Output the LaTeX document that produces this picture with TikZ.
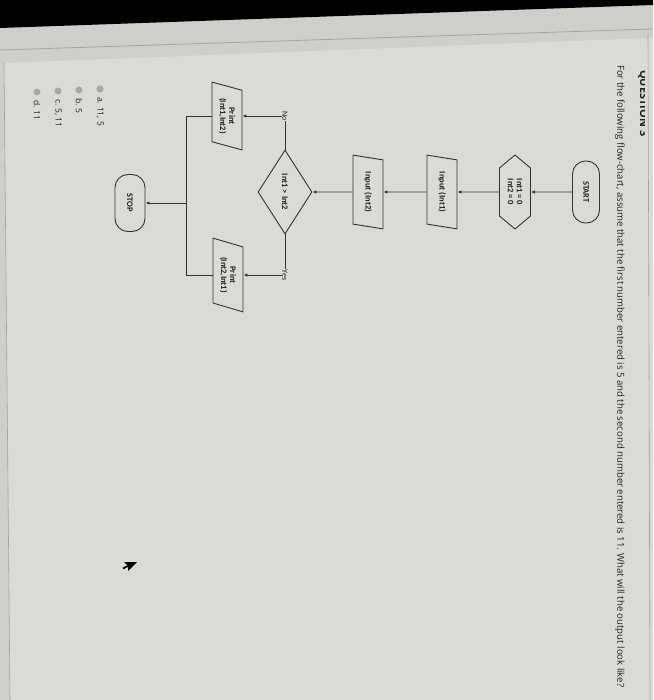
\documentclass[tikz,border=0pt]{standalone}
\usepackage{fontspec}
\usetikzlibrary{shapes.geometric,shapes.symbols,arrows.meta}
\newfontfamily\fcfont{Carlito}
\newfontfamily\qfont{Open Sans}
\definecolor{bgcard}{HTML}{DADAD6}
\definecolor{bgtop}{HTML}{CECECB}
\definecolor{linec}{HTML}{333333}
\definecolor{txt}{HTML}{222222}
\definecolor{border}{HTML}{A3A3A0}
\definecolor{radio}{HTML}{A8A8A6}
\begin{document}
\begin{tikzpicture}[x=1pt,y=1pt,
  line/.style={draw=linec, line width=0.9pt},
  arr/.style={line, -{Latex[length=4pt,width=3.4pt]}},
  fc/.style={line, text=txt, align=center, inner sep=1pt, rotate=-90,
    font=\fcfont\bfseries\fontsize{8.5}{9}\selectfont},
  term/.style={fc, rectangle, rounded corners=13pt, minimum width=62pt, minimum height=27pt},
  hexa/.style={fc, signal, signal to=east and west, signal pointer angle=100,
    minimum width=74pt, minimum height=31pt},
  io/.style={fc, trapezium, trapezium left angle=72, trapezium right angle=108,
    trapezium stretches=true, minimum width=74pt, minimum height=30pt},
  dec/.style={fc, diamond, minimum width=84pt, minimum height=54pt, inner sep=0pt},
  lab/.style={rotate=-90, fill=bgcard, inner sep=0.8pt, text=txt,
    font=\fcfont\fontsize{8}{9}\selectfont},
  opt/.style={rotate=-90, anchor=west, text=txt, inner sep=0pt,
    font=\qfont\fontsize{8.5}{10}\selectfont},
  radiob/.style={circle, fill=radio, minimum size=7pt, inner sep=0pt}
]
\useasboundingbox (0,0) rectangle (653,-700);
% background
\fill[bgtop] (0,0) rectangle (653,-700);
\fill[bgcard] (4,-63) -- (648,-38) -- (653,-38) -- (653,-700) -- (10,-700) -- cycle;
\fill[black] (0,0) -- (653,0) -- (653,-5) -- (0,-28) -- cycle;
\draw[border, line width=0.8pt] (0,-50) -- (653,-29);
\draw[border, line width=0.6pt] (4,-63) -- (10,-700);
\draw[border, line width=0.6pt] (648,-34) -- (650,-700);
% heading (cut)
\begin{scope}
  \clip (600,-60) rectangle (644.5,-170);
  \node[rotate=-90, anchor=base west, inner sep=0pt, text=txt,
        font=\qfont\bfseries\fontsize{11}{12}\selectfont] (qhead) at (640,-70) {QUESTION 3};
\end{scope}
% question
\node[rotate=-90, anchor=west, inner sep=0pt, text=txt, font=\qfont\fontsize{9}{10}\selectfont]
  (question) at (620,-65)
  {\resizebox{622pt}{!}{For the following flow-chart, assume that the first number entered is 5 and the second number entered is 11. What will the output look like?}};
% options
\node[radiob] (ra) at (100,-89) {};
\node[radiob] (rb) at (79,-90) {};
\node[radiob] (rc) at (58,-91) {};
\node[radiob] (rd) at (37,-92) {};
\node[opt] (oa) at (100,-97) {a. 11, 5};
\node[opt] (ob) at (79,-98) {b. 5};
\node[opt] (oc) at (58,-99) {c. 5, 11};
\node[opt] (od) at (37,-100) {d. 11};
% flowchart
\node[term] (start) at (586,-192) {START};
\node[hexa] (init) at (515,-192) {Int1 = 0\\Int2 = 0};
\node[io] (in1) at (442,-192) {Input (Int1)};
\node[io] (in2) at (368,-192) {Input (Int2)};
\node[dec] (cond) at (285,-192) {Int1 > Int2};
\node[io, minimum width=68pt] (p1) at (227,-116) {Print\\(Int1,Int2)};
\node[io] (p2) at (228,-275) {Print\\(Int2,Int1)};
\node[term, minimum width=57pt, minimum height=30pt] (stop) at (130,-203) {STOP};
\coordinate (ma) at (186,-116);
\coordinate (mb) at (186,-275);
\coordinate (mc) at (186,-203);
\draw[arr] (start) -- (init);
\draw[arr] (init) -- (in1);
\draw[arr] (in1) -- (in2);
\draw[arr] (in2) -- (cond);
\draw[arr] (cond) |- node[lab, pos=0.5] (nolab) {No} (p1);
\draw[arr] (cond) |- node[lab, pos=0.5] (yeslab) {Yes} (p2);
\draw[line] (p1) -- (ma) -- (mb) -- (p2);
\draw[arr] (mc) -- (stop);
% mouse pointer
\begin{scope}[shift={(137,-562)}, scale=0.8]
  \fill[black] (0,0) -- (-16,0) -- (-12,-4) -- (-18,-7) -- (-17,-9) -- (-11,-6) -- (-11,-11) -- cycle;
\end{scope}
\end{tikzpicture}
\end{document}
